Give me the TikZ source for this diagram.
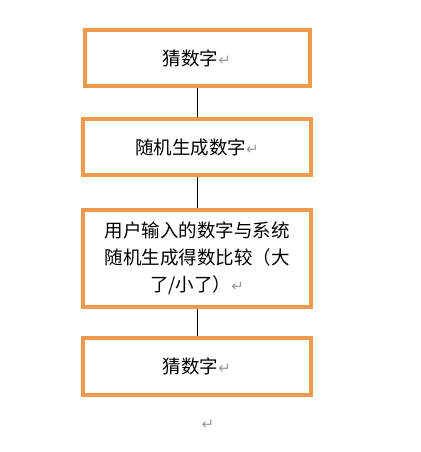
\documentclass[tikz,border=0pt]{standalone}
\usepackage{fontspec}
\newfontfamily\cjk{Noto Sans CJK SC}
\newfontfamily\symf{DejaVu Sans}
\definecolor{boxorange}{HTML}{F09A4E}
\definecolor{retgray}{HTML}{999999}
\newcommand{\retmark}{{\symf\color{retgray}\fontsize{15}{15}\selectfont ↵}}
\begin{document}
\begin{tikzpicture}[x=1pt,y=-1pt,
  flowbox/.style={draw=boxorange,line width=4pt,fill=white,inner sep=0pt,
    font=\cjk\fontsize{18.5}{27}\selectfont,align=center},
  link/.style={draw=black,line width=0.9pt}]
\useasboundingbox (0,0) rectangle (420,452);
\node[flowbox,minimum width=225pt,minimum height=56pt] (b1) at (197,58) {猜数字\retmark};
\node[flowbox,minimum width=228pt,minimum height=56pt] (b2) at (197,147) {随机生成数字\retmark};
\node[flowbox,minimum width=228pt,minimum height=97pt,text width=205pt] (b3) at (197,258.5) {用户输入的数字与系统\\随机生成得数比较（大\\了/小了）\retmark};
\node[flowbox,minimum width=228pt,minimum height=57pt] (b4) at (197,366.5) {猜数字\retmark};
\node[inner sep=0pt] (end) at (208,425) {\retmark};
\draw[link] (b1.south) -- (b2.north);
\draw[link] (b2.south) -- (b3.north);
\draw[link] (b3.south) -- (b4.north);
\end{tikzpicture}
\end{document}
